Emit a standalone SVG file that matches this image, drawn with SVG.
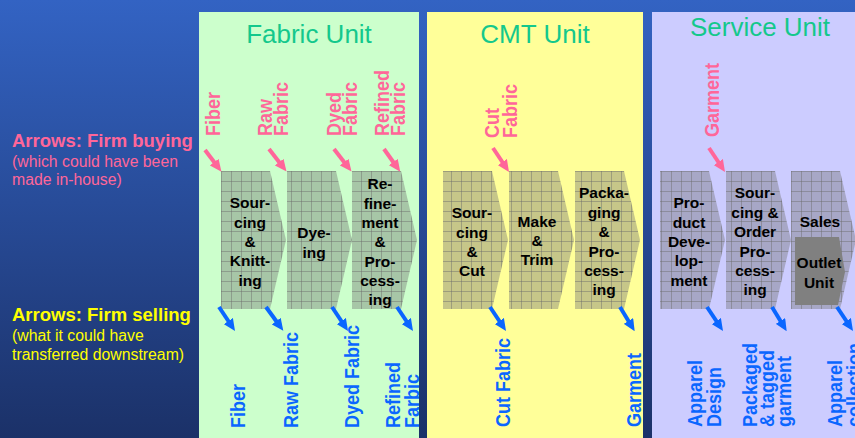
<svg xmlns="http://www.w3.org/2000/svg" width="855" height="438" viewBox="0 0 855 438">
  <defs>
    <linearGradient id="bg" x1="0" y1="0" x2="0" y2="1">
      <stop offset="0" stop-color="#3363c3"/>
      <stop offset="1" stop-color="#1b3168"/>
    </linearGradient>
    <pattern id="grid" patternUnits="userSpaceOnUse" x="1" y="1" width="10" height="10">
      <rect width="10" height="10" fill="#707070" fill-opacity="0.4"/>
      <path d="M0,0.5 H10 M0.5,0 V10" stroke="#6a6a6a" stroke-opacity="0.45" stroke-width="1" fill="none"/>
    </pattern>
    <marker id="headPink" viewBox="0 0 12 11" refX="3" refY="5.5" markerWidth="12" markerHeight="11" markerUnits="userSpaceOnUse" orient="auto">
      <path d="M0,0 L12,5.5 L0,11 Z" fill="#ff6699"/>
    </marker>
    <marker id="headBlue" viewBox="0 0 12 11" refX="3" refY="5.5" markerWidth="12" markerHeight="11" markerUnits="userSpaceOnUse" orient="auto">
      <path d="M0,0 L12,5.5 L0,11 Z" fill="#0a66ff"/>
    </marker>
  </defs>
  <style>
    .title { font-family: "Liberation Sans", Arial, sans-serif; font-size: 26px; fill: #14c88c; text-anchor: middle; }
    .step { fill: url(#grid); }
    .lbl { font-family: "Liberation Sans", Arial, sans-serif; font-weight: bold; font-size: 15.5px; fill: #000; text-anchor: middle; }
    .vin { font-family: "Liberation Sans", Arial, sans-serif; font-weight: bold; font-size: 18px; fill: #ff6699; }
    .vout { font-family: "Liberation Sans", Arial, sans-serif; font-weight: bold; font-size: 18px; fill: #0a66ff; }
    .head { font-family: "Liberation Sans", Arial, sans-serif; font-weight: bold; font-size: 18.5px; }
    .sub { font-family: "Liberation Sans", Arial, sans-serif; font-size: 15.8px; }
    .buy { stroke: #ff6699; stroke-width: 4; fill: none; marker-end: url(#headPink); }
    .sell { stroke: #0a66ff; stroke-width: 4; fill: none; marker-end: url(#headBlue); }
  </style>

  <!-- background -->
  <rect width="855" height="438" fill="url(#bg)"/>

  <!-- legend -->
  <g id="legend-buying">
    <text class="head" x="12" y="147" fill="#ff6699">Arrows: Firm buying</text>
    <text class="sub" x="12" y="167" fill="#ff6699">(which could have been</text>
    <text class="sub" x="12" y="185" fill="#ff6699">made in-house)</text>
  </g>
  <g id="legend-selling">
    <text class="head" x="12" y="321" fill="#ffff00">Arrows: Firm selling</text>
    <text class="sub" x="12" y="341" fill="#ffff00">(what it could have</text>
    <text class="sub" x="12" y="360" fill="#ffff00">transferred downstream)</text>
  </g>

  <!-- unit panels -->
  <g id="fabric-unit">
    <rect x="199" y="12" width="220" height="426" fill="#ccffcc"/>
    <text class="title" x="309" y="43">Fabric Unit</text>
  </g>
  <g id="cmt-unit">
    <rect x="427" y="12" width="216" height="426" fill="#ffff99"/>
    <text class="title" x="535" y="43">CMT Unit</text>
  </g>
  <g id="service-unit">
    <rect x="652" y="12" width="203" height="426" fill="#ccccff"/>
    <text class="title" x="760" y="36">Service Unit</text>
  </g>

  <!-- Fabric unit steps -->
  <g id="sourcing-knitting">
    <path class="step" d="M221,171 H270 L286,240 L270,309 H221 Z"/>
    <text class="lbl" x="250" y="208">Sour-</text>
    <text class="lbl" x="250" y="227.5">cing</text>
    <text class="lbl" x="250" y="247">&amp;</text>
    <text class="lbl" x="250" y="266">Knitt-</text>
    <text class="lbl" x="250" y="285.5">ing</text>
  </g>
  <g id="dyeing">
    <path class="step" d="M287,171 H336 L352,240 L336,309 H287 Z"/>
    <text class="lbl" x="314" y="238">Dye-</text>
    <text class="lbl" x="314" y="257.5">ing</text>
  </g>
  <g id="refinement">
    <path class="step" d="M352,171 H401 L417,240 L401,309 H352 Z"/>
    <text class="lbl" x="380" y="189">Re-</text>
    <text class="lbl" x="380" y="208.5">fine-</text>
    <text class="lbl" x="380" y="228">ment</text>
    <text class="lbl" x="380" y="247">&amp;</text>
    <text class="lbl" x="380" y="266.5">Pro-</text>
    <text class="lbl" x="380" y="286">cess-</text>
    <text class="lbl" x="380" y="305">ing</text>
  </g>

  <!-- CMT unit steps -->
  <g id="sourcing-cut">
    <path class="step" d="M443,171 H492 L508,240 L492,309 H443 Z"/>
    <text class="lbl" x="472" y="218">Sour-</text>
    <text class="lbl" x="472" y="237.5">cing</text>
    <text class="lbl" x="472" y="257">&amp;</text>
    <text class="lbl" x="472" y="276">Cut</text>
  </g>
  <g id="make-trim">
    <path class="step" d="M509,171 H558 L574,240 L558,309 H509 Z"/>
    <text class="lbl" x="537" y="227">Make</text>
    <text class="lbl" x="537" y="246">&amp;</text>
    <text class="lbl" x="537" y="265">Trim</text>
  </g>
  <g id="packaging">
    <path class="step" d="M575,171 H624 L640,240 L624,309 H575 Z"/>
    <text class="lbl" x="604" y="198">Packa-</text>
    <text class="lbl" x="604" y="217.5">ging</text>
    <text class="lbl" x="604" y="237">&amp;</text>
    <text class="lbl" x="604" y="256.5">Pro-</text>
    <text class="lbl" x="604" y="276">cess-</text>
    <text class="lbl" x="604" y="295">ing</text>
  </g>

  <!-- Service unit steps -->
  <g id="product-development">
    <path class="step" d="M660,171 H709 L725,240 L709,309 H660 Z"/>
    <text class="lbl" x="689" y="208">Pro-</text>
    <text class="lbl" x="689" y="227.5">duct</text>
    <text class="lbl" x="689" y="247">Deve-</text>
    <text class="lbl" x="689" y="266">lop-</text>
    <text class="lbl" x="689" y="285.5">ment</text>
  </g>
  <g id="sourcing-order">
    <path class="step" d="M726,171 H775 L791,240 L775,309 H726 Z"/>
    <text class="lbl" x="755" y="198">Sour-</text>
    <text class="lbl" x="755" y="217.5">cing &amp;</text>
    <text class="lbl" x="755" y="237">Order</text>
    <text class="lbl" x="755" y="256.5">Pro-</text>
    <text class="lbl" x="755" y="276">cess-</text>
    <text class="lbl" x="755" y="295">ing</text>
  </g>
  <g id="sales">
    <path class="step" d="M791,171 H840 L856,240 L840,309 H791 Z"/>
    <text class="lbl" x="820" y="227">Sales</text>
  </g>
  <g id="outlet-unit">
    <path d="M795,237 H839 L845,272 L838,305 H795 Z" fill="#808080"/>
    <text class="lbl" x="819" y="268">Outlet</text>
    <text class="lbl" x="819" y="288">Unit</text>
  </g>

  <!-- bought-in inputs -->
  <g id="inputs">
    <text class="vin" transform="translate(220,136) rotate(-90) scale(1,1.1)">Fiber</text>
    <text class="vin" transform="translate(272,136) rotate(-90) scale(1,1.1)">Raw</text>
    <text class="vin" transform="translate(288,136) rotate(-90) scale(1,1.1)">Fabric</text>
    <text class="vin" transform="translate(341,136) rotate(-90) scale(1,1.1)">Dyed</text>
    <text class="vin" transform="translate(357,136) rotate(-90) scale(1,1.1)">Fabric</text>
    <text class="vin" transform="translate(389,136) rotate(-90) scale(1,1.1)">Refined</text>
    <text class="vin" transform="translate(405,136) rotate(-90) scale(1,1.1)">Fabric</text>
    <text class="vin" transform="translate(499,138) rotate(-90) scale(1,1.1)">Cut</text>
    <text class="vin" transform="translate(517,138) rotate(-90) scale(1,1.1)">Fabric</text>
    <text class="vin" transform="translate(719,137) rotate(-90) scale(1,1.1)">Garment</text>
  </g>

  <!-- sold outputs (the last column runs past the right edge) -->
  <g id="outputs">
    <text class="vout" transform="translate(245,428) rotate(-90) scale(1,1.1)">Fiber</text>
    <text class="vout" transform="translate(298,428) rotate(-90) scale(1,1.1)">Raw Fabric</text>
    <text class="vout" transform="translate(359,428) rotate(-90) scale(1,1.1)">Dyed Fabric</text>
    <text class="vout" transform="translate(400,428) rotate(-90) scale(1,1.1)">Refined</text>
    <text class="vout" transform="translate(419,428) rotate(-90) scale(1,1.1)">Farbic</text>
    <text class="vout" transform="translate(510,427) rotate(-90) scale(1,1.1)">Cut Fabric</text>
    <text class="vout" transform="translate(641,427) rotate(-90) scale(1,1.1)">Garment</text>
    <text class="vout" transform="translate(702,427) rotate(-90) scale(1,1.1)">Apparel</text>
    <text class="vout" transform="translate(721,427) rotate(-90) scale(1,1.1)">Design</text>
    <text class="vout" transform="translate(757,427) rotate(-90) scale(1,1.1)">Packaged</text>
    <text class="vout" transform="translate(774,427) rotate(-90) scale(1,1.1)">&amp; tagged</text>
    <text class="vout" transform="translate(791,427) rotate(-90) scale(1,1.1)">garment</text>
    <text class="vout" transform="translate(842,427) rotate(-90) scale(1,1.1)">Apparel</text>
    <text class="vout" transform="translate(861,427) rotate(-90) scale(1,1.1)">collection</text>
  </g>

  <!-- connectors -->
  <g id="connectors">
    <line class="buy" x1="205" y1="150" x2="216" y2="164.5"/>
    <line class="buy" x1="269" y1="149" x2="281" y2="164.5"/>
    <line class="buy" x1="334" y1="149" x2="346" y2="164.5"/>
    <line class="buy" x1="384" y1="149" x2="395" y2="164.5"/>
    <line class="buy" x1="493" y1="148" x2="504" y2="164.5"/>
    <line class="buy" x1="709" y1="148" x2="720" y2="164.5"/>

    <line class="sell" x1="219" y1="307" x2="230" y2="323.5"/>
    <line class="sell" x1="266" y1="307" x2="278" y2="323.5"/>
    <line class="sell" x1="332" y1="307" x2="343" y2="323.5"/>
    <line class="sell" x1="397" y1="307" x2="408" y2="323.5"/>
    <line class="sell" x1="490" y1="307" x2="501" y2="323.5"/>
    <line class="sell" x1="620" y1="307" x2="630" y2="323.5"/>
    <line class="sell" x1="707" y1="307" x2="718" y2="323.5"/>
    <line class="sell" x1="772" y1="307" x2="782" y2="323.5"/>
    <line class="sell" x1="837" y1="307" x2="848" y2="323.5"/>
  </g>
</svg>
